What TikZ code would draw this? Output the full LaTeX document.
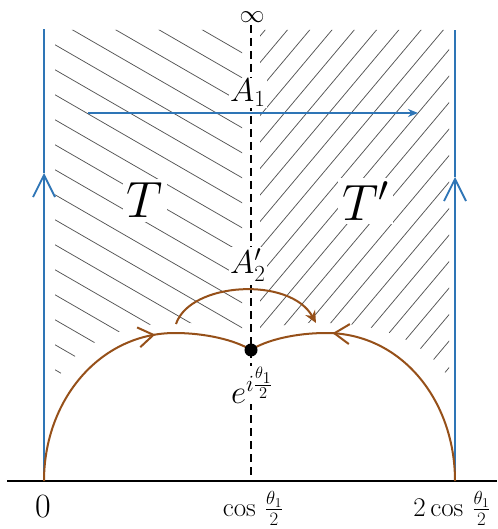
\RequirePackage{fix-cm}
\documentclass[tikz,border=0pt]{standalone}
\usepackage{amsmath}
\usetikzlibrary{arrows.meta,decorations.markings}
\definecolor{myblue}{RGB}{46,117,182}
\definecolor{mybrown}{RGB}{150,80,25}
\definecolor{hatchgray}{RGB}{85,85,85}
\tikzset{
  hatchline/.style={draw=hatchgray,line width=0.75pt},
  blueline/.style={draw=myblue,line width=1.8pt},
  brownline/.style={draw=mybrown,line width=2pt},
  axisline/.style={draw=black,line width=2.6pt},
  midline/.style={draw=black,line width=1.8pt,dash pattern=on 8pt off 5pt},
  lbl/.style={fill=white,inner sep=1pt,font=\fontsize{33}{40}\selectfont},
  biglbl/.style={fill=white,inner sep=4pt,font=\fontsize{51}{60}\selectfont},
  axlbl/.style={inner sep=0pt,font=\fontsize{27}{32}\selectfont},
  vbarb/.style={-{Straight Barb[length=22pt,width=22pt,line width=1.8pt]}},
  arcbarb/.style={postaction={decorate},decoration={markings,mark=at position #1 with {\arrow{Straight Barb[length=15pt,width=20pt,line width=2pt]}}}},
}
\begin{document}
\begin{tikzpicture}[x=1pt,y=-1pt]
\path[use as bounding box, fill=white] (0,0) rectangle (497,529);

% hatching, left region
\begin{scope}
\clip (55,30) -- (242,30) -- (242,332) .. controls (228,326) and (205,322) .. (172,323)
      .. controls (110,324) and (62,355) .. (55,388) -- cycle;
\foreach \k in {-6,...,15} \draw[hatchline] (0,{13+25*\k}) -- (500,{13+25*\k+288.7});
\end{scope}
% hatching, right region
\begin{scope}
\clip (260,30) -- (449,30) -- (449,378) .. controls (425,342) and (385,324) .. (328,323)
      .. controls (300,322) and (275,325) .. (260,332) -- cycle;
\foreach \k in {-18,...,6} \draw[hatchline] (0,{796+26.5*\k}) -- (500,{796+26.5*\k-595});
\end{scope}

% coordinates
\coordinate (inf) at (251,25);
\coordinate (mid0) at (251,481);
\coordinate (ax0) at (7,481);
\coordinate (ax1) at (497,481);
\coordinate (L0) at (44,481);
\coordinate (Lt) at (44,173);
\coordinate (L1) at (44,29);
\coordinate (R0) at (455,481);
\coordinate (Rt) at (455,177);
\coordinate (R1) at (455,30);
\coordinate (H0) at (88,113);
\coordinate (H1) at (418,113);
\coordinate (U0) at (176,324);
\coordinate (U1) at (316,323);
\coordinate (P) at (251,350);

% dashed middle line and axis
\draw[midline] (inf) -- (mid0);
\draw[axisline] (ax0) -- (ax1);

% blue lines
\draw[blueline,vbarb] (L0) -- (Lt);
\draw[blueline] (Lt) -- (L1);
\draw[blueline,vbarb] (R0) -- (Rt);
\draw[blueline] (Rt) -- (R1);
\draw[blueline,line width=2pt,-{Stealth[length=10pt,width=8pt]}] (H0) -- (H1);

% brown arcs
\draw[brownline,arcbarb=200pt] (L0) .. controls (44,400) and (100,333) .. (175,333)
      .. controls (205,333) and (235,340) .. (P);
\draw[brownline,arcbarb=212pt] (R0) .. controls (455,400) and (401,333) .. (326,333)
      .. controls (296,333) and (266,340) .. (P);
\draw[brownline,-{Stealth[length=12pt,width=11pt]}] (U0) .. controls (190,282) and (290,276) .. (U1);

\node[circle,fill=black,inner sep=0pt,minimum size=13pt] (dot) at (P) {};

% labels
\node[inner sep=0pt,font=\fontsize{25}{30}\selectfont,anchor=base] (infty) at (252,23) {$\infty$};
\node[lbl,anchor=base west] (A1) at (229,102) {$A_1$};
\node[lbl,anchor=base west] (A2) at (229,273) {$A_2'$};
\node[biglbl,anchor=base] (T) at (145,218) {$T$};
\node[biglbl,anchor=base west] (Tp) at (338,220) {$T'$};
\node[lbl,anchor=base] (e) at (252,403) {$e^{i\frac{\theta_1}{2}}$};
\node[axlbl,font=\fontsize{34}{40}\selectfont,anchor=base] (zero) at (43,517) {$0$};
\node[axlbl,anchor=base] (c1) at (253,516) {$\cos\,\frac{\theta_1}{2}$};
\node[axlbl,anchor=base] (c2) at (452,516) {$2\cos\,\frac{\theta_1}{2}$};
\end{tikzpicture}
\end{document}
